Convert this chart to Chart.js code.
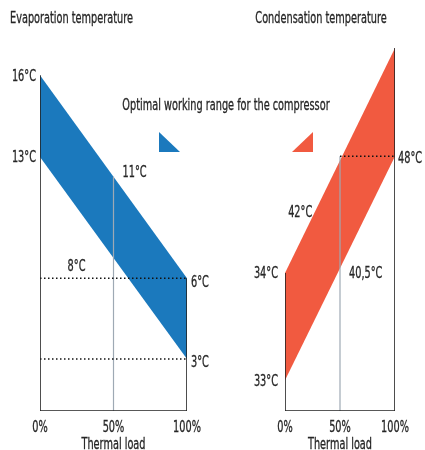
<!DOCTYPE html>
<html>
<head>
<meta charset="utf-8">
<script src="https://cdn.jsdelivr.net/npm/chart.js@4.4.1/dist/chart.umd.min.js"></script>
<style>
  body { margin: 0; background: #fff; }
  #wrap { position: relative; width: 425px; height: 450px; }
  #wrap canvas { position: absolute; left: 0; top: 0; }
</style>
</head>
<body>
<div id="wrap">
  <canvas id="evap" width="425" height="450"></canvas>
  <canvas id="cond" width="425" height="450"></canvas>
</div>
<script>
// thermal load ticks, %
var loadTicks = [0, 50, 100];

// band edges at 0% and 100% load, on a schematic height scale
// (0 = bottom axis, 100 = top of the condensation band)
var evapUpper = [92.5, 36.6];   // 16°C -> 6°C
var evapLower = [70.0, 14.3];   // 13°C -> 3°C
var condUpper = [38.0, 100];    // 34°C -> top
var condLower = [8.5, 70.2];    // 33°C -> 48°C

var evapLabels = ['16°C', '13°C', '11°C', '8°C', '6°C', '3°C'];
var condLabels = ['34°C', '33°C', '42°C', '40,5°C', '48°C'];

var BLUE = '#1b79bd';
var RED = '#f15a40';
var TXT = '#262626';

// pick a narrow font if there is one
function hasFont(name) {
  var c = document.createElement('canvas').getContext('2d');
  c.font = '40px monospace';
  var a = c.measureText('Evaporation temperature').width;
  c.font = '40px "' + name + '", monospace';
  return c.measureText('Evaporation temperature').width !== a;
}
var family = ['Liberation Sans Narrow', 'DejaVu Sans Condensed', 'Liberation Sans'].find(hasFont) || 'sans-serif';
var FONT = '15px "' + family + '"';
var mc = document.createElement('canvas').getContext('2d');
mc.font = FONT;
var textScale = Math.min(1, 123 / mc.measureText('Evaporation temperature').width);

function drawText(ctx, str, x, y, align) {
  ctx.save();
  ctx.font = FONT;
  ctx.fillStyle = TXT;
  ctx.strokeStyle = TXT;
  ctx.lineWidth = 0.3;
  ctx.textBaseline = 'middle';
  ctx.textAlign = align;
  ctx.translate(x, y + 1.5);
  ctx.scale(textScale, 1);
  ctx.fillText(str, 0, 0);
  ctx.strokeText(str, 0, 0);
  ctx.restore();
}

function pts(xs, ys) {
  return xs.map(function (x, i) { return {x: x, y: ys[i]}; });
}
function mid(a) { return (a[0] + a[1]) / 2; }

function seg(data, color, width, dash, order) {
  return {data: data, borderColor: color, borderWidth: width, borderDash: dash || [],
          fill: false, pointRadius: 0, order: order};
}

function band(upper, lower, color) {
  return [
    {data: pts([0, 100], upper), borderWidth: 0, borderColor: color, backgroundColor: color,
     fill: '+1', pointRadius: 0, order: 9},
    {data: pts([0, 100], lower), borderWidth: 0, borderColor: color,
     fill: false, pointRadius: 0, order: 9}
  ];
}

function options(padLeft, padRight) {
  return {
    responsive: false,
    animation: false,
    layout: {padding: {left: padLeft, right: padRight, top: 48, bottom: 0}},
    plugins: {legend: {display: false}, tooltip: {enabled: false}},
    elements: {line: {tension: 0}},
    scales: {
      x: {
        type: 'linear', min: 0, max: 100,
        afterBuildTicks: function (s) { s.ticks = loadTicks.map(function (v) { return {value: v}; }); },
        afterFit: function (s) { s.height = 39; },
        ticks: {display: false},
        grid: {display: false, drawTicks: false},
        border: {display: false}
      },
      y: {type: 'linear', min: 0, max: 100, display: false}
    }
  };
}

// text placed at points of the chart, offsets in px; x ticks drawn condensed
function labelPlugin(items, extra) {
  return {
    id: 'labels',
    afterDraw: function (chart) {
      var ctx = chart.ctx, sx = chart.scales.x, sy = chart.scales.y;
      sx.ticks.forEach(function (t) {
        drawText(ctx, t.value + '%', sx.getPixelForValue(t.value), sx.top + 16, 'center');
      });
      drawText(ctx, 'Thermal load', (sx.left + sx.right) / 2, sx.top + 33, 'center');
      items.forEach(function (it) {
        drawText(ctx, it[0], sx.getPixelForValue(it[1]) + it[4], sy.getPixelForValue(it[2]) + it[5], it[3]);
      });
      if (extra) extra(ctx);
    }
  };
}

// left chart: evaporation
var evapMid = mid(evapUpper);
new Chart(document.getElementById('evap'), {
  type: 'line',
  data: {
    datasets: band(evapUpper, evapLower, BLUE).concat([
      seg(pts([50, 50], [0, evapMid]), '#9ea9b4', 1.2, null, 3),
      seg(pts([0, 100], [evapUpper[1], evapUpper[1]]), '#111', 1.5, [1.5, 2.5], 2),
      seg(pts([0, 100], [evapLower[1], evapLower[1]]), '#111', 1.5, [1.5, 2.5], 2),
      seg(pts([0, 0, 100, 100], [evapUpper[0], 0, 0, evapUpper[1]]), '#222', 1.6, null, 1)
    ])
  },
  options: options(40, 238),
  plugins: [labelPlugin([
    [evapLabels[0], 0, evapUpper[0], 'right', -4, 0],
    [evapLabels[1], 0, evapLower[0], 'right', -4, 0],
    [evapLabels[2], 50, evapMid, 'left', 9, -5],
    [evapLabels[3], 50, mid(evapLower), 'right', -28, 8],
    [evapLabels[4], 100, evapUpper[1], 'left', 4, 3],
    [evapLabels[5], 100, evapLower[1], 'left', 4, 3]
  ], function (ctx) {
    drawText(ctx, 'Evaporation temperature', 10, 18, 'left');
    drawText(ctx, 'Optimal working range for the compressor', 226, 105, 'center');
    ctx.fillStyle = BLUE;
    ctx.beginPath(); ctx.moveTo(159, 132); ctx.lineTo(159, 152); ctx.lineTo(180, 152); ctx.closePath(); ctx.fill();
    ctx.fillStyle = RED;
    ctx.beginPath(); ctx.moveTo(313, 132); ctx.lineTo(313, 152); ctx.lineTo(292, 152); ctx.closePath(); ctx.fill();
  })]
});

// right chart: condensation
var condAt = 27.5;   // where the 42°C label sits on the upper edge
new Chart(document.getElementById('cond'), {
  type: 'line',
  data: {
    datasets: band(condUpper, condLower, RED).concat([
      seg(pts([50, 50], [0, condLower[1]]), '#9ea9b4', 1.2, null, 3),
      seg(pts([50, 100], [condLower[1], condLower[1]]), '#111', 1.5, [1.5, 2.5], 2),
      seg(pts([0, 0, 100, 100], [condUpper[0], 0, 0, condUpper[1]]), '#222', 1.6, null, 1)
    ])
  },
  options: options(285, 30),
  plugins: [labelPlugin([
    [condLabels[0], 0, condUpper[0], 'right', -7, 0],
    [condLabels[1], 0, condLower[0], 'right', -7, 0],
    [condLabels[2], condAt, condUpper[0] + (condUpper[1] - condUpper[0]) * condAt / 100, 'right', -3, 0],
    [condLabels[3], 50, mid(condLower), 'left', 9, 4],
    [condLabels[4], 100, condLower[1], 'left', 3, 1]
  ], function (ctx) {
    drawText(ctx, 'Condensation temperature', 321, 18, 'center');
  })]
});
</script>
</body>
</html>
